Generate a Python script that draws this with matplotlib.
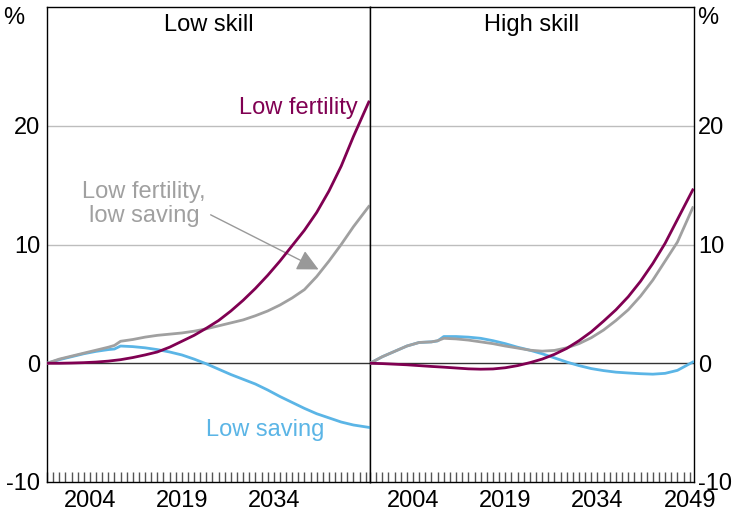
import matplotlib
matplotlib.use("Agg")
import matplotlib.pyplot as plt
from matplotlib.ticker import MultipleLocator, FixedLocator

plt.rcParams['font.family'] = ['Liberation Sans', 'DejaVu Sans']
plt.rcParams['axes.unicode_minus'] = False

years = [1997, 1999, 2001, 2003, 2005, 2007, 2008, 2009, 2011, 2013, 2015, 2017, 2019,
         2021, 2023, 2025, 2027, 2029, 2031, 2033, 2035, 2037, 2039, 2041, 2043, 2045,
         2047, 2049.5]

# Low skill panel
low_fert_low = [0, 0.0, 0.02, 0.05, 0.1, 0.18, 0.24, 0.3, 0.48, 0.7, 0.95, 1.35, 1.85,
                2.35, 2.95, 3.6, 4.4, 5.3, 6.3, 7.4, 8.6, 9.9, 11.2, 12.7, 14.5, 16.6,
                19.1, 22.0]
fert_sav_low = [0, 0.35, 0.6, 0.85, 1.1, 1.35, 1.5, 1.85, 2.0, 2.2, 2.35, 2.45, 2.55,
                2.7, 2.9, 3.15, 3.4, 3.65, 4.0, 4.4, 4.9, 5.5, 6.2, 7.3, 8.6, 10.0,
                11.5, 13.2]
low_sav_low = [0, 0.3, 0.55, 0.8, 1.0, 1.15, 1.2, 1.45, 1.4, 1.3, 1.15, 0.95, 0.7,
               0.35, -0.05, -0.5, -0.95, -1.35, -1.75, -2.25, -2.8, -3.3, -3.8, -4.25,
               -4.6, -4.95, -5.2, -5.4]

# High skill panel
low_fert_high = [0, -0.03, -0.08, -0.13, -0.2, -0.27, -0.3, -0.33, -0.4, -0.47, -0.5,
                 -0.48, -0.38, -0.2, 0.05, 0.35, 0.75, 1.25, 1.9, 2.65, 3.55, 4.5, 5.6,
                 6.9, 8.4, 10.1, 12.1, 14.6]
fert_sav_high = [0, 0.55, 1.0, 1.45, 1.75, 1.8, 1.9, 2.1, 2.05, 1.95, 1.8, 1.65, 1.45,
                 1.28, 1.1, 1.02, 1.08, 1.3, 1.65, 2.15, 2.8, 3.6, 4.5, 5.65, 7.0, 8.6,
                 10.2, 13.1]
low_sav_high = [0, 0.55, 1.0, 1.45, 1.75, 1.8, 1.88, 2.25, 2.25, 2.2, 2.1, 1.9, 1.65,
                1.35, 1.1, 0.8, 0.45, 0.1, -0.2, -0.45, -0.62, -0.75, -0.82, -0.88,
                -0.92, -0.85, -0.6, 0.1]

xtick_years = [2004, 2019, 2034, 2049]
yticks = [-10, 0, 10, 20]
panel_titles = ["Low skill", "High skill"]

PURPLE = '#800052'
BLUE = '#5BB5E6'
GREY = '#A0A0A0'
FS = 17

W, H = 733, 521
fig = plt.figure(figsize=(W / 100, H / 100), dpi=100)
ax1 = fig.add_axes([47 / W, 1 - 482 / H, 323 / W, 475 / H])
ax2 = fig.add_axes([370 / W, 1 - 482 / H, 324 / W, 475 / H])

for ax, title, lf, fs, ls in [(ax1, panel_titles[0], low_fert_low, fert_sav_low, low_sav_low),
                              (ax2, panel_titles[1], low_fert_high, fert_sav_high, low_sav_high)]:
    ax.set_xlim(1997, 2049.7)
    ax.set_ylim(-10, 30)
    for y in [10, 20]:
        ax.axhline(y, color='#BDBDBD', lw=1.0, zorder=1)
    ax.axhline(0, color='#333333', lw=1.0, zorder=1)
    ax.plot(years, ls, color=BLUE, lw=2.0, zorder=3)
    ax.plot(years, fs, color=GREY, lw=2.0, zorder=3)
    ax.plot(years, lf, color=PURPLE, lw=2.0, zorder=4)
    ax.xaxis.set_major_locator(FixedLocator(xtick_years))
    ax.xaxis.set_minor_locator(MultipleLocator(1))
    ax.tick_params(axis='x', which='both', direction='in', length=7, width=1,
                   color='#555555', labelsize=FS, pad=6)
    ax.set_yticks(yticks)
    ax.tick_params(axis='y', which='both', length=0, labelsize=FS, pad=5)
    for sp in ax.spines.values():
        sp.set_color('black')
        sp.set_linewidth(1.0)
    ax.text(0.5, 0.962, title, transform=ax.transAxes, ha='center', va='center',
            fontsize=FS)

ax1.set_xticklabels(['2004', '2019', '2034', ''])
ax2.set_xticklabels(['2004', '2019', '2034', '2049'])
ax2.yaxis.tick_right()
ax2.tick_params(axis='y', which='both', length=0, labelsize=FS, pad=3)

ax1.text(2047.7, 21.5, "Low fertility", color=PURPLE, ha='right', va='center', fontsize=FS)
ax1.text(2012.8, 13.4, "Low fertility,\nlow saving", color=GREY, ha='center',
         va='center', fontsize=FS, linespacing=1.15)
ax1.text(2032.6, -5.6, "Low saving", color=BLUE, ha='center', va='center', fontsize=FS)
ax1.annotate("", xy=(2041.3, 7.9), xytext=(2023.7, 12.5),
             arrowprops=dict(arrowstyle='-|>,head_length=0.5,head_width=0.25',
                             color='#999999', lw=1.0,
                             mutation_scale=26, shrinkA=0, shrinkB=0))

fig.text(14 / W, 1 - 18 / H, '%', ha='center', va='center', fontsize=FS)
fig.text(708 / W, 1 - 18 / H, '%', ha='center', va='center', fontsize=FS)

fig.savefig('out.png', dpi=100)
